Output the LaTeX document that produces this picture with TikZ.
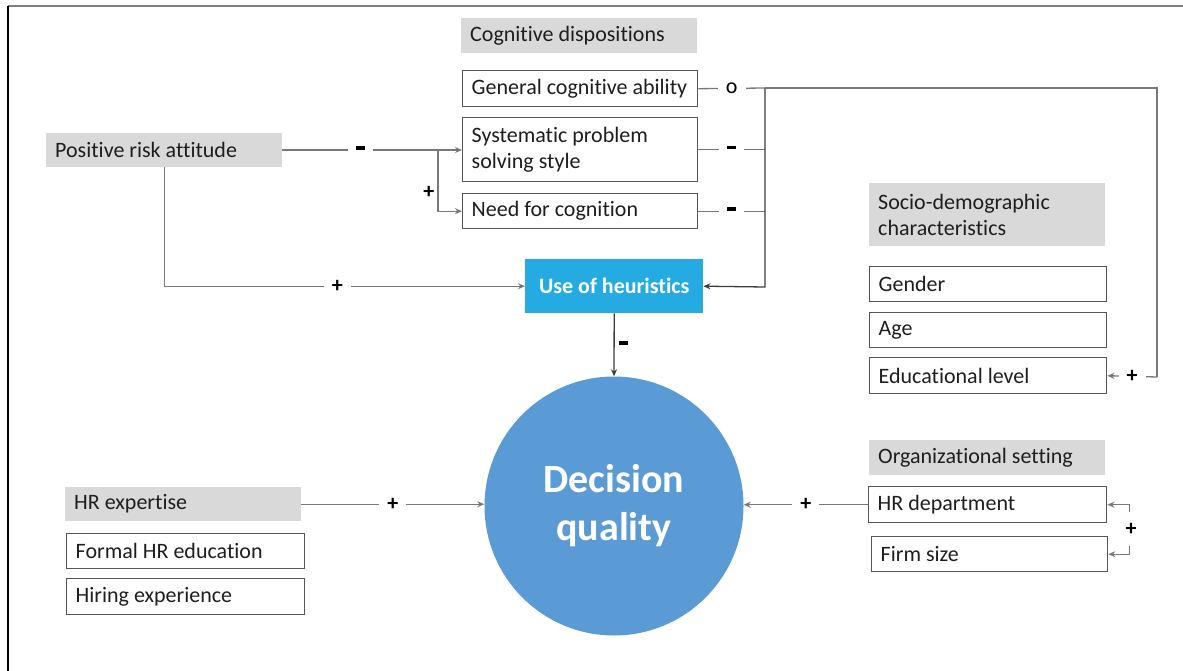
\documentclass[tikz,border=0pt]{standalone}
\usepackage{fontspec}
\setmainfont{Carlito}[Ligatures={NoCommon}]
\usetikzlibrary{arrows.meta}
\hyphenpenalty=10000
\exhyphenpenalty=10000
\definecolor{gfill}{RGB}{217,217,217}
\definecolor{bord}{RGB}{85,85,85}
\definecolor{lgray}{RGB}{120,120,120}
\definecolor{dline}{RGB}{60,60,60}
\definecolor{cyanbox}{RGB}{38,170,226}
\definecolor{circ}{RGB}{91,155,213}
\definecolor{txt}{RGB}{30,30,30}
\newcommand{\mns}{\rule[4pt]{9pt}{3.5pt}}
\tikzset{
  base/.style={anchor=north west, inner xsep=9pt, inner ysep=0pt, align=left, font=\fontsize{22}{26}\selectfont, text=txt, execute at begin node={\spaceskip=0pt\xspaceskip=0pt\relax}},
  gbox/.style={base, fill=gfill},
  wbox/.style={base, draw=bord, line width=1.4pt},
  conn/.style={draw=lgray, line width=1.3pt},
  dconn/.style={draw=dline, line width=1.3pt},
  arr/.style={-{Stealth[length=7pt,width=6pt]}},
  lab/.style={fill=white, inner xsep=8pt, inner ysep=1pt, font=\bfseries\fontsize{22}{24}\selectfont, text=black},
}
\begin{document}
\begin{tikzpicture}[x=1pt,y=-1pt]
\useasboundingbox (0,0) rectangle (1183,671);
% frame
\draw[line width=1.5pt, draw=gray] (8,6) -- (1183,6);
\draw[line width=1.5pt, draw=black] (8,6) -- (8,671);

% cognitive dispositions
\node[gbox, text width=218pt, minimum height=35pt] (cd) at (461,18) {Cognitive dispositions};
\node[wbox, text width=217pt, minimum height=36pt] (gca) at (462,70) {General cognitive ability};
\node[wbox, text width=217pt, minimum height=64pt] (sps) at (462,117) {Systematic problem\\solving style};
\node[wbox, text width=217pt, minimum height=35pt] (nfc) at (462,193) {Need for cognition};

% positive risk attitude
\node[gbox, text width=218pt, minimum height=34pt] (pra) at (46,133) {Positive risk attitude};

% use of heuristics
\node[anchor=north west, fill=cyanbox, minimum width=178pt, minimum height=54pt, inner sep=0pt, text=white, font=\bfseries\fontsize{22}{24}\selectfont] (uoh) at (525,259) {Use of heuristics};

% decision quality
\node[circle, fill=circ, minimum size=259pt, inner sep=0pt, text=white, align=center, font=\bfseries\fontsize{40}{48}\selectfont] (dq) at (614,506) {Decision\\quality};

% socio-demographic
\node[gbox, text width=218pt, minimum height=63pt] (sdc) at (869,183) {Socio-demographic\\characteristics};
\node[wbox, text width=219pt, minimum height=35pt] (gen) at (869,266) {Gender};
\node[wbox, text width=219pt, minimum height=35pt] (age) at (869,312) {Age};
\node[wbox, text width=219pt, minimum height=36pt] (edu) at (869,357) {Educational level};

% organizational setting
\node[gbox, text width=218pt, minimum height=35pt] (org) at (869,440) {Organizational setting};
\node[wbox, text width=220pt, minimum height=36pt] (hrd) at (868,486) {HR department};
\node[wbox, text width=218pt, minimum height=35pt] (fs) at (871,536) {Firm size};

% HR expertise
\node[gbox, text width=218pt, minimum height=34pt] (hre) at (65,487) {HR expertise};
\node[wbox, text width=220pt, minimum height=35pt] (fhe) at (66,533) {Formal HR education};
\node[wbox, text width=220pt, minimum height=36pt] (hie) at (66,578) {Hiring experience};

% connectors: positive risk attitude
\coordinate (j1) at (438,150);
\draw[conn] (pra.east |- j1) -- node[lab]{\mns} (j1);
\draw[conn, arr] (j1) -- (sps.west |- j1);
\draw[conn, arr] (j1) |- node[lab, pos=0.35, left, fill=none, inner xsep=3pt]{+} (nfc.west);
\draw[conn, arr] (pra.south) |- node[lab, pos=0.74]{+} (uoh.west);

% cognitive dispositions to heuristics
\coordinate (v1) at (765,88);
\coordinate (v2) at (765,287);
\coordinate (r1) at (1157,88);
\coordinate (r2) at (1157,377);
\draw[conn] (gca.east) -- node[lab, font=\fontsize{22}{24}\selectfont]{o} (v1);
\draw[conn] (sps.east) -- node[lab]{\mns} (sps.east -| v1);
\draw[conn] (nfc.east) -- node[lab]{\mns} (nfc.east -| v1);
\draw[dconn, arr] (v1) -- (v2) -- (uoh.east);
\draw[conn] (v1) -- (r1) -- (r2);
\draw[conn, arr] (r2) -- node[lab]{+} (edu.east);

% heuristics to decision quality
\draw[dconn, arr] (uoh.south) -- node[lab, right, fill=none, inner xsep=4pt]{\mns} (dq.north);

% HR expertise and organizational setting
\draw[conn, arr] (hre.east) -- node[lab]{+} (hre.east -| dq.west);
\draw[conn, arr] (hrd.west) -- node[lab]{+} (hrd.west -| dq.east);
\coordinate (k1) at (1129,512);
\coordinate (k2) at (1129,546);
\draw[conn, arr, line width=1pt] (k1) |- (hrd.east);
\draw[conn, arr, line width=1pt] (k2) |- (fs.east);
\node[lab, fill=none, inner sep=0pt] (pl) at (1131,529) {+};
\end{tikzpicture}
\end{document}
